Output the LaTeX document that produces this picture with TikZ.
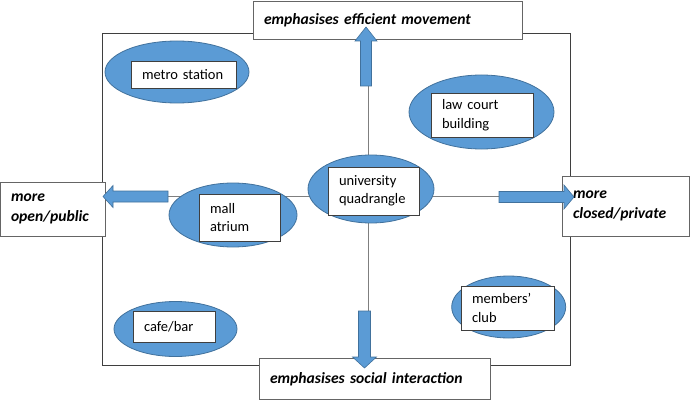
\documentclass[tikz,border=0pt]{standalone}
\usepackage{fontspec}
\setmainfont{Carlito}
\usetikzlibrary{shapes.geometric}
\pgfdeclarelayer{background}
\pgfsetlayers{background,main}
\definecolor{blfill}{HTML}{5B9BD5}
\definecolor{bledge}{HTML}{41719C}
\definecolor{boxedge}{HTML}{3F3F3F}
\definecolor{axisline}{HTML}{7F7F7F}
\tikzset{
  place/.style={ellipse, fill=blfill, draw=bledge, line width=0.8pt, inner sep=0pt},
  tag/.style={draw=boxedge, fill=white, line width=0.8pt, align=left, inner xsep=11pt, inner ysep=0pt,
    font=\fontsize{14.5}{18.5}\selectfont},
  pole/.style={draw=boxedge!80, fill=white, line width=0.8pt, align=left, inner xsep=11pt, inner ysep=0pt,
    font=\fontsize{15.6}{20}\selectfont\bfseries\itshape},
  blockarrow/.style={fill=blfill, draw=bledge, line width=0.6pt, line join=miter},
  axis/.style={draw=axisline, line width=0.8pt},
  frame/.style={draw=boxedge, line width=0.9pt}
}
\begin{document}
\begin{tikzpicture}[x=1pt,y=-1pt]
\useasboundingbox (0,0) rectangle (690,401);
\coordinate (vx) at (368,0);
\coordinate (hy) at (0,196.5);
% ellipses
\node[place, minimum width=144pt, minimum height=62pt] (e-metro) at (177,72) {};
\node[place, minimum width=145pt, minimum height=74pt] (e-law) at (481.5,112) {};
\node[place, minimum width=126pt, minimum height=68pt] (e-univ) at (371,189) {};
\node[place, minimum width=128pt, minimum height=64pt] (e-mall) at (233,215) {};
\node[place, minimum width=123pt, minimum height=55pt] (e-cafe) at (175.5,329) {};
\node[place, minimum width=114pt, minimum height=62pt] (e-club) at (508.7,307) {};
% tags
\node[tag, minimum width=105pt, minimum height=27pt, text width=83pt] (metro) at (183.5,74.5) {metro station};
\node[tag, minimum width=102pt, minimum height=44pt, text width=80pt] (law) at (482,115) {law court\\building};
\node[tag, minimum width=91pt, minimum height=48pt, text width=69pt] (univ) at (373.5,191) {university\\quadrangle};
\node[tag, minimum width=81pt, minimum height=47pt, text width=59pt] (mall) at (239.5,217.5) {mall\\atrium};
\node[tag, minimum width=82pt, minimum height=31pt, text width=60pt] (cafe) at (174,326.5) {cafe/bar};
\node[tag, minimum width=93pt, minimum height=44pt, text width=71pt] (club) at (507.5,308) {members’\\club};
% poles
\node[pole, minimum width=269pt, minimum height=38pt, text width=247pt] (top) at (387.5,20) {emphasises efficient movement};
\node[pole, minimum width=231pt, minimum height=41pt, text width=209pt] (bottom) at (374.5,379) {emphasises social interaction};
\node[pole, minimum width=105pt, minimum height=54pt, text width=83pt] (left) at (52.5,209) {more\\open/public};
\node[pole, minimum width=127pt, minimum height=60pt, text width=105pt] (right) at (625.5,206) {more\\closed/private};
% frame and axes behind
\begin{pgfonlayer}{background}
\draw[frame] (102,33) rectangle (570.7,365.7);
\draw[axis] (top.south -| vx) -- (bottom.north -| vx);
\draw[axis] (left.east |- hy) -- (right.west |- hy);
\end{pgfonlayer}
% block arrows
\draw[blockarrow] (360.5,86) -- (360.5,41) -- (355,41) -- (366,27) -- (377,41) -- (371.5,41) -- (371.5,86) -- cycle;
\draw[blockarrow] (358.5,311) -- (358.5,357) -- (352.5,357) -- (364.5,368) -- (376.5,357) -- (370.5,357) -- (370.5,311) -- cycle;
\draw[blockarrow] (168,191) -- (113,191) -- (113,185.5) -- (103,196.5) -- (113,207.5) -- (113,202) -- (168,202) -- cycle;
\draw[blockarrow] (499,191.5) -- (564,191.5) -- (564,185) -- (574,197) -- (564,209) -- (564,202.5) -- (499,202.5) -- cycle;
\end{tikzpicture}
\end{document}
